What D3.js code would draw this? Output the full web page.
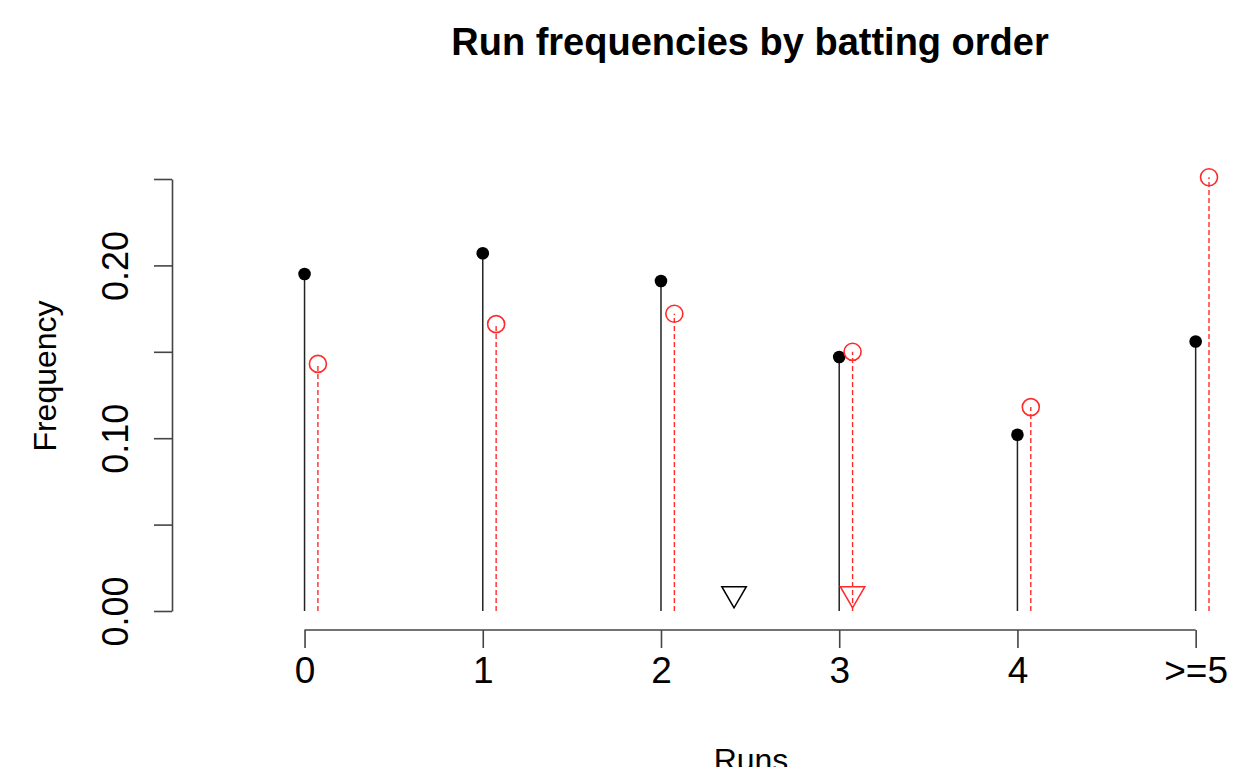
<!DOCTYPE html>
<html>
<head>
<meta charset="utf-8">
<script src="https://cdn.jsdelivr.net/npm/d3@7"></script>
<style>
body{margin:0;background:#fff;}
svg{display:block;font-family:"Liberation Sans",Arial,sans-serif;}
</style>
</head>
<body>
<svg id="chart"></svg>
<script>
var width=1234;
var height=767;

// data
var runs=[0,1,2,3,4,5];
var runLabels=["0","1","2","3","4",">=5"];
var freqA=[0.195,0.207,0.191,0.147,0.102,0.156];   // black, solid
var freqB=[0.143,0.166,0.172,0.150,0.118,0.251];   // red, dashed
var meanA=2.41;
var meanB=3.0;
var yTicks=[0,0.05,0.10,0.15,0.20,0.25];
var yLabels=[0,0.10,0.20];

var offset=0.075;   // red series shifted right
var red="#ff2a2a";
var axisCol="#444";

var svg=d3.select("#chart")
.attr("width",width)
.attr("height",height);

var x=d3.scaleLinear()
.domain([-0.2,5.2])
.range([268.9,1231.3]);

var y=d3.scaleLinear()
.domain([0,0.25])
.range([611,179]);

// title
svg.append("text")
.attr("x",750)
.attr("y",55)
.attr("text-anchor","middle")
.style("font-weight","bold")
.style("font-size","38px")
.text("Run frequencies by batting order");

// x axis
var xAxis=d3.axisBottom(x)
.tickValues(runs)
.tickFormat(function(d,i){return runLabels[i];})
.tickSize(18)
.tickPadding(9);
var gx=svg.append("g")
.attr("transform","translate(0,630)")
.call(xAxis);
gx.select(".domain").remove();
gx.append("line")
.attr("x1",x(0)).attr("x2",x(5))
.attr("stroke",axisCol)
.attr("stroke-width",1.6);
gx.selectAll(".tick line").attr("stroke",axisCol).attr("stroke-width",1.6);
gx.selectAll(".tick text")
.attr("fill","#000")
.style("font-size","37px")
.style("font-family","Liberation Sans, Arial, sans-serif");

// y axis
var yAxis=d3.axisLeft(y)
.tickValues(yTicks)
.tickFormat(function(d){
    return yLabels.some(function(v){return Math.abs(v-d)<1e-9;})?d3.format(".2f")(d):"";
})
.tickSize(18)
.tickSizeOuter(0);
var gy=svg.append("g")
.attr("transform","translate(172,0)")
.call(yAxis);
gy.select(".domain").attr("stroke",axisCol).attr("stroke-width",1.6);
gy.selectAll(".tick line").attr("stroke",axisCol).attr("stroke-width",1.6);
gy.selectAll(".tick text")
.attr("fill","#000")
.attr("x",null).attr("dy",null)
.attr("text-anchor","middle")
.attr("transform","translate(-44,0) rotate(-90)")
.style("font-size","36px")
.style("font-family","Liberation Sans, Arial, sans-serif");

// axis titles
svg.append("text")
.attr("transform","translate(56,376) rotate(-90)")
.attr("text-anchor","middle")
.style("font-size","32px")
.text("Frequency");

svg.append("text")
.attr("x",751)
.attr("y",771)
.attr("text-anchor","middle")
.style("font-size","32px")
.text("Runs");

// black spikes
svg.append("g")
.selectAll("line")
.data(freqA)
.join("line")
.attr("x1",function(d,i){return x(runs[i]);})
.attr("x2",function(d,i){return x(runs[i]);})
.attr("y1",y(0))
.attr("y2",function(d){return y(d);})
.attr("stroke","#222")
.attr("stroke-width",1.5);

svg.append("g")
.selectAll("circle")
.data(freqA)
.join("circle")
.attr("cx",function(d,i){return x(runs[i]);})
.attr("cy",function(d){return y(d);})
.attr("r",6.3)
.attr("fill","#000");

// red spikes
svg.append("g")
.selectAll("line")
.data(freqB)
.join("line")
.attr("x1",function(d,i){return x(runs[i]+offset);})
.attr("x2",function(d,i){return x(runs[i]+offset);})
.attr("y1",y(0))
.attr("y2",function(d){return y(d);})
.attr("stroke",red)
.attr("stroke-width",1.4)
.attr("stroke-dasharray","5,3");

svg.append("g")
.selectAll("circle")
.data(freqB)
.join("circle")
.attr("cx",function(d,i){return x(runs[i]+offset);})
.attr("cy",function(d){return y(d);})
.attr("r",8.5)
.attr("fill","none")
.attr("stroke",red)
.attr("stroke-width",1.6);

// mean markers (down triangles)
var tri=d3.symbol().type(d3.symbolTriangle).size(260);
var means=[{m:meanA,c:"#000",dx:0},{m:meanB,c:red,dx:offset}];
svg.append("g")
.selectAll("path")
.data(means)
.join("path")
.attr("d",tri)
.attr("transform",function(d){return "translate("+x(d.m+d.dx)+","+y(0.01)+") rotate(180)";})
.attr("fill","none")
.attr("stroke",function(d){return d.c;})
.attr("stroke-width",1.5);
</script>
</body>
</html>
